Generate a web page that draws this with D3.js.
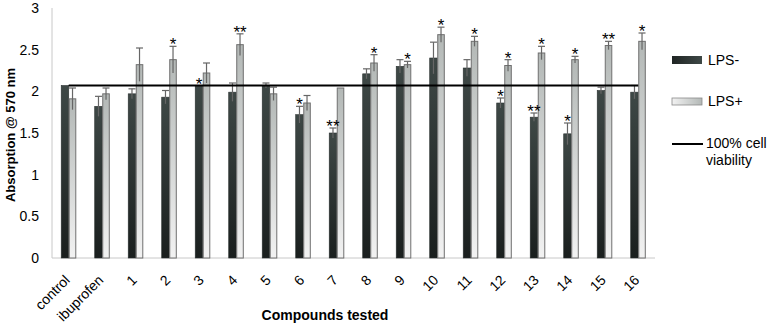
<!doctype html>
<html lang="en">
  <head>
    <meta charset="UTF-8" />
    <title>Absorption @ 570 nm</title>
    <script src="https://d3js.org/d3.v7.min.js"></script>
    <style>
      html,
      body {
        margin: 0;
        padding: 0;
        background: #fff;
        overflow: hidden;
      }
      text {
        font-family: "Liberation Sans", Arial, sans-serif;
        fill: #000;
      }
    </style>
  </head>
  <body>
    <svg id="chart" width="769" height="326"></svg>

    <script>
      // data
      const compounds = ["control", "ibuprofen", "1", "2", "3", "4", "5", "6", "7", "8",
        "9", "10", "11", "12", "13", "14", "15", "16"];
      const lpsMinus = [2.07, 1.82, 1.97, 1.93, 2.07, 1.99, 2.07, 1.72, 1.50, 2.21,
        2.30, 2.40, 2.28, 1.86, 1.69, 1.49, 2.01, 1.99];
      const lpsMinusErr = [0, 0.12, 0.06, 0.08, 0, 0.11, 0.03, 0.10, 0.06, 0.06,
        0.08, 0.19, 0.10, 0.06, 0.05, 0.13, 0.04, 0.08];
      const lpsPlus = [1.91, 1.97, 2.32, 2.38, 2.22, 2.56, 1.97, 1.86, 2.04, 2.34,
        2.32, 2.68, 2.60, 2.31, 2.46, 2.38, 2.55, 2.60];
      const lpsPlusErr = [0.13, 0.07, 0.20, 0.16, 0.12, 0.13, 0.08, 0.09, 0, 0.10,
        0.04, 0.09, 0.06, 0.07, 0.08, 0.04, 0.05, 0.10];
      const starsMinus = ["", "", "", "", "*", "", "", "*", "**", "", "", "", "", "*", "**", "*", "", ""];
      const starsPlus = ["", "", "", "*", "", "**", "", "", "", "*", "*", "*", "*", "*", "*", "*", "**", "*"];
      const viability = 2.07;
      const yTicks = [0, 0.5, 1, 1.5, 2, 2.5, 3];

      const svg = d3.select("#chart");
      const mLeft = 52, mRight = 655, mTop = 8, mBottom = 258;

      const x = d3.scaleBand().domain(compounds).range([mLeft, mRight])
        .paddingInner(0.55).paddingOuter(0.275);
      const xs = d3.scaleBand().domain(["minus", "plus"]).range([0, x.bandwidth()]);
      const y = d3.scaleLinear().domain([0, 3]).range([mBottom, mTop]);

      // gradients
      const defs = svg.append("defs");
      const gDark = defs.append("linearGradient").attr("id", "gDark")
        .attr("x1", 0).attr("y1", 0).attr("x2", 0).attr("y2", 1);
      gDark.append("stop").attr("offset", "0%").attr("stop-color", "#3e4846");
      gDark.append("stop").attr("offset", "100%").attr("stop-color", "#1a1f1e");
      const gLight = defs.append("linearGradient").attr("id", "gLight")
        .attr("x1", 0).attr("y1", 0).attr("x2", 0).attr("y2", 1);
      gLight.append("stop").attr("offset", "0%").attr("stop-color", "#b3b8b6");
      gLight.append("stop").attr("offset", "100%").attr("stop-color", "#f2f2f2");
      const gDarkH = defs.append("linearGradient").attr("id", "gDarkH");
      gDarkH.append("stop").attr("offset", "0%").attr("stop-color", "#1f2524");
      gDarkH.append("stop").attr("offset", "100%").attr("stop-color", "#3e4846");
      const gLightH = defs.append("linearGradient").attr("id", "gLightH");
      gLightH.append("stop").attr("offset", "0%").attr("stop-color", "#f2f2f2");
      gLightH.append("stop").attr("offset", "100%").attr("stop-color", "#b3b8b6");

      // axes lines
      svg.append("line").attr("x1", mLeft).attr("x2", mLeft).attr("y1", mTop).attr("y2", mBottom)
        .attr("stroke", "#c8c8c8");
      svg.append("line").attr("x1", mLeft).attr("x2", mRight).attr("y1", mBottom).attr("y2", mBottom)
        .attr("stroke", "#c8c8c8");

      const yAxis = svg.append("g").attr("transform", `translate(${mLeft},0)`)
        .call(d3.axisLeft(y).tickValues(yTicks).tickSize(0).tickPadding(13).tickFormat(d3.format("")));
      yAxis.select(".domain").remove();
      yAxis.selectAll("text").style("font-size", "14px").style("font-family", "Liberation Sans, Arial, sans-serif");

      const xAxis = svg.append("g").attr("transform", `translate(0,${mBottom})`)
        .call(d3.axisBottom(x).tickSize(0).tickPadding(0));
      xAxis.select(".domain").remove();
      xAxis.selectAll("text")
        .style("font-size", "14px")
        .style("font-family", "Liberation Sans, Arial, sans-serif")
        .attr("text-anchor", "end")
        .attr("dy", 0)
        .attr("transform", "translate(2,23) rotate(-45)");

      const groups = svg.append("g").selectAll("g").data(compounds).join("g")
        .attr("transform", (d) => `translate(${x(d)},0)`);

      // LPS- bars
      groups.append("rect")
        .attr("x", xs("minus"))
        .attr("width", xs.bandwidth())
        .attr("y", (d, i) => y(lpsMinus[i]))
        .attr("height", (d, i) => mBottom - y(lpsMinus[i]))
        .attr("fill", "url(#gDark)")
        .attr("stroke", "#2a302f")
        .attr("stroke-width", 0.6);

      // LPS+ bars
      groups.append("rect")
        .attr("x", xs("plus") + 0.5)
        .attr("width", xs.bandwidth() - 1)
        .attr("y", (d, i) => y(lpsPlus[i]))
        .attr("height", (d, i) => mBottom - y(lpsPlus[i]))
        .attr("fill", "url(#gLight)")
        .attr("stroke", "#6f6f6f")
        .attr("stroke-width", 1);

      // error bars
      function errBar(key, vals, errs) {
        const cx = xs(key) + xs.bandwidth() / 2;
        const e = groups.filter((d, i) => errs[i] > 0);
        const idx = (d) => compounds.indexOf(d);
        e.append("line")
          .attr("x1", cx).attr("x2", cx)
          .attr("y1", (d) => y(vals[idx(d)] - errs[idx(d)]))
          .attr("y2", (d) => y(vals[idx(d)] + errs[idx(d)]))
          .attr("stroke", "#666").attr("stroke-width", 1.2);
        e.append("line")
          .attr("x1", cx - 3.5).attr("x2", cx + 3.5)
          .attr("y1", (d) => y(vals[idx(d)] + errs[idx(d)]))
          .attr("y2", (d) => y(vals[idx(d)] + errs[idx(d)]))
          .attr("stroke", "#666").attr("stroke-width", 1.2);
      }
      errBar("minus", lpsMinus, lpsMinusErr);
      errBar("plus", lpsPlus, lpsPlusErr);

      // 100% viability line
      svg.append("line")
        .attr("x1", x(compounds[0]) + x.bandwidth() / 2)
        .attr("x2", x(compounds[compounds.length - 1]) + x.bandwidth() / 2)
        .attr("y1", y(viability)).attr("y2", y(viability))
        .attr("stroke", "#000").attr("stroke-width", 2);

      // significance stars
      function stars(key, vals, errs, marks) {
        groups.append("text")
          .attr("x", xs(key) + xs.bandwidth() / 2)
          .attr("y", (d, i) => y(vals[i] + errs[i]) + 4)
          .attr("text-anchor", "middle")
          .style("font-size", "17px")
          .style("fill", "#000")
          .text((d, i) => marks[i]);
      }
      stars("minus", lpsMinus, lpsMinusErr, starsMinus);
      stars("plus", lpsPlus, lpsPlusErr, starsPlus);

      // axis titles
      svg.append("text")
        .attr("transform", `translate(15,${(mTop + mBottom) / 2 + 2}) rotate(-90)`)
        .attr("text-anchor", "middle")
        .style("font-size", "13px").style("font-weight", "bold")
        .text("Absorption @ 570 nm");
      svg.append("text")
        .attr("x", 325).attr("y", 320)
        .attr("text-anchor", "middle")
        .style("font-size", "14px").style("font-weight", "bold")
        .text("Compounds tested");

      // legend
      const lg = svg.append("g").attr("transform", "translate(672,0)");
      lg.append("rect").attr("x", 0).attr("y", 56).attr("width", 30).attr("height", 8)
        .attr("fill", "url(#gDarkH)");
      lg.append("text").attr("x", 36).attr("y", 65).style("font-size", "14px").text("LPS-");
      lg.append("rect").attr("x", 0).attr("y", 98).attr("width", 30).attr("height", 7)
        .attr("fill", "url(#gLightH)").attr("stroke", "#8a8a8a").attr("stroke-width", 0.8);
      lg.append("text").attr("x", 36).attr("y", 106).style("font-size", "14px").text("LPS+");
      lg.append("line").attr("x1", 0).attr("x2", 31).attr("y1", 144).attr("y2", 144)
        .attr("stroke", "#000").attr("stroke-width", 2);
      lg.append("text").attr("x", 34).attr("y", 148).style("font-size", "14px").text("100% cell");
      lg.append("text").attr("x", 34).attr("y", 165).style("font-size", "14px").text("viability");
    </script>
  </body>
</html>
